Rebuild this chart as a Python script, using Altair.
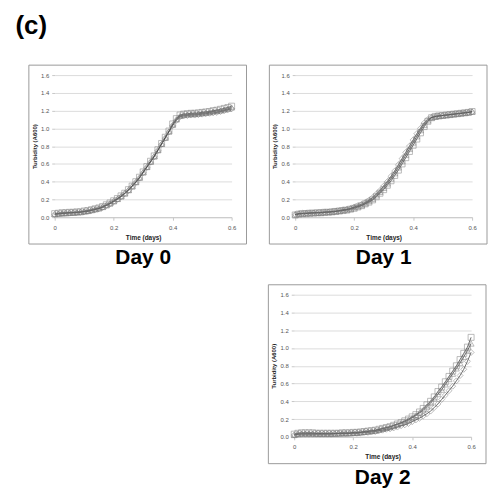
import altair as alt
import pandas as pd

TIME = [0, 0.0125, 0.025, 0.0375, 0.05, 0.0625, 0.075, 0.0875, 0.1, 0.1125, 0.125, 0.1375,
        0.15, 0.1625, 0.175, 0.1875, 0.2, 0.2125, 0.225, 0.2375, 0.25, 0.2625, 0.275, 0.2875,
        0.3, 0.3125, 0.325, 0.3375, 0.35, 0.3625, 0.375, 0.3875, 0.4, 0.4125, 0.425, 0.4375,
        0.45, 0.4625, 0.475, 0.4875, 0.5, 0.5125, 0.525, 0.5375, 0.55, 0.5625, 0.575, 0.5875, 0.6]

# Day 0
S0 = [0.04,0.045,0.05,0.05,0.055,0.055,0.06,0.06,0.07,0.075,0.085,0.095,0.105,0.12,0.14,0.16,0.185,0.21,0.24,0.27,0.31,0.35,0.40,0.45,0.51,0.57,0.63,0.69,0.76,0.83,0.90,0.97,1.05,1.11,1.15,1.16,1.165,1.17,1.17,1.175,1.18,1.185,1.19,1.20,1.205,1.215,1.225,1.235,1.25]
D0 = [0.03,0.035,0.04,0.045,0.045,0.05,0.05,0.055,0.06,0.065,0.075,0.085,0.095,0.11,0.13,0.15,0.175,0.20,0.23,0.265,0.30,0.345,0.39,0.44,0.50,0.56,0.62,0.68,0.75,0.82,0.89,0.96,1.03,1.09,1.13,1.14,1.145,1.15,1.15,1.155,1.16,1.165,1.17,1.175,1.18,1.19,1.20,1.21,1.22]
T0 = [0.035,0.04,0.045,0.045,0.05,0.05,0.055,0.06,0.065,0.07,0.08,0.09,0.10,0.115,0.135,0.155,0.18,0.205,0.235,0.27,0.305,0.35,0.395,0.445,0.505,0.565,0.625,0.685,0.755,0.825,0.895,0.965,1.04,1.10,1.14,1.15,1.155,1.16,1.16,1.165,1.17,1.175,1.18,1.19,1.195,1.20,1.21,1.22,1.235]

# Day 1
S1 = [0.025,0.035,0.04,0.04,0.045,0.045,0.05,0.05,0.055,0.055,0.06,0.065,0.07,0.075,0.08,0.09,0.10,0.115,0.13,0.15,0.17,0.195,0.23,0.27,0.31,0.36,0.41,0.47,0.53,0.60,0.67,0.74,0.81,0.88,0.95,1.02,1.08,1.12,1.135,1.14,1.145,1.15,1.155,1.16,1.165,1.17,1.175,1.18,1.19]
D1 = [0.03,0.04,0.045,0.045,0.05,0.05,0.05,0.055,0.06,0.06,0.065,0.07,0.075,0.085,0.09,0.10,0.115,0.13,0.145,0.165,0.19,0.22,0.26,0.30,0.35,0.40,0.46,0.52,0.59,0.66,0.73,0.80,0.87,0.94,1.00,1.06,1.10,1.125,1.135,1.14,1.145,1.15,1.155,1.16,1.165,1.17,1.175,1.18,1.185]
T1 = [0.03,0.04,0.04,0.045,0.045,0.05,0.05,0.05,0.055,0.06,0.06,0.065,0.07,0.08,0.085,0.095,0.11,0.12,0.135,0.155,0.18,0.205,0.245,0.285,0.33,0.38,0.435,0.495,0.56,0.63,0.70,0.77,0.84,0.91,0.98,1.04,1.09,1.12,1.13,1.14,1.145,1.15,1.155,1.16,1.165,1.17,1.175,1.18,1.19]

# Day 2
S2 = [0.03,0.04,0.045,0.045,0.045,0.045,0.04,0.04,0.04,0.04,0.04,0.04,0.04,0.045,0.045,0.045,0.05,0.05,0.055,0.06,0.065,0.07,0.075,0.085,0.095,0.105,0.115,0.13,0.145,0.16,0.18,0.20,0.225,0.25,0.28,0.32,0.36,0.40,0.45,0.51,0.56,0.62,0.68,0.74,0.80,0.87,0.94,1.01,1.12]
T2 = [0.02,0.03,0.035,0.035,0.035,0.035,0.035,0.035,0.035,0.035,0.035,0.035,0.04,0.04,0.04,0.04,0.045,0.045,0.05,0.055,0.06,0.065,0.07,0.08,0.09,0.10,0.11,0.125,0.14,0.155,0.17,0.19,0.215,0.24,0.27,0.30,0.34,0.38,0.43,0.48,0.53,0.59,0.65,0.71,0.77,0.83,0.90,0.97,1.05]
D2 = [0.02,0.03,0.03,0.03,0.03,0.03,0.03,0.03,0.03,0.03,0.03,0.035,0.035,0.035,0.035,0.04,0.04,0.04,0.045,0.05,0.05,0.055,0.06,0.07,0.075,0.085,0.09,0.10,0.11,0.125,0.135,0.15,0.17,0.19,0.21,0.235,0.26,0.29,0.33,0.37,0.42,0.47,0.52,0.57,0.63,0.69,0.76,0.85,0.95]

X_TICKS = [0, 0.2, 0.4, 0.6]
Y_TICKS = [0, 0.2, 0.4, 0.6, 0.8, 1.0, 1.2, 1.4, 1.6]
SERIES = ["A", "B", "C"]
SHAPES = ["square", "diamond", "triangle-up"]

FONT = "Liberation Sans"


def make_df(a, b, c):
    rows = []
    for name, vals in zip(SERIES, [a, b, c]):
        assert len(vals) == len(TIME)
        for t, v in zip(TIME, vals):
            rows.append({"t": t, "v": v, "s": name})
    return pd.DataFrame(rows)


def frame_layer(opacity=1.0):
    return alt.Chart(pd.DataFrame({"k": [0]})).mark_rect(
        fillOpacity=0, stroke="#9a9a9a", strokeWidth=1, strokeOpacity=opacity
    ).encode(x=alt.value(-26), x2=alt.value(193), y=alt.value(-10), y2=alt.value(170))


def panel(label, a, b, c):
    df = make_df(a, b, c)
    base = alt.Chart(df)
    x = alt.X("t:Q", scale=alt.Scale(domain=[0, 0.6], nice=False),
              axis=alt.Axis(values=X_TICKS, tickCount=len(X_TICKS), format=".1~f",
                            grid=False, domain=True,
                            domainColor="#c8c8c8", tickColor="#c8c8c8", tickSize=3,
                            labelFontSize=6, labelColor="#555", labelFont=FONT,
                            labelOverlap=False, labelFlush=False,
                            labelPadding=4, title="Time (days)", titleFont=FONT,
                            titleFontSize=6.5, titleFontWeight="bold", titleColor="#222",
                            titlePadding=4))
    y = alt.Y("v:Q", scale=alt.Scale(domain=[0, 1.6], nice=False),
              axis=alt.Axis(values=Y_TICKS, tickCount=len(Y_TICKS), format=".1f",
                            grid=True, gridColor="#dcdcdc",
                            domain=False, tickColor="#c8c8c8", tickSize=3,
                            labelFontSize=6, labelColor="#555", labelFont=FONT,
                            labelOverlap=False, labelFlush=False,
                            labelPadding=3, title="Turbidity (A600)", titleFont=FONT,
                            titleFontSize=6, titleFontWeight="bold", titleColor="#222",
                            titlePadding=3))
    lines = base.mark_line(color="#444", strokeWidth=0.8).encode(x=x, y=y, detail="s:N")
    pts = base.mark_point(filled=False, size=36, strokeWidth=0.7, color="#777777").encode(
        x="t:Q", y="v:Q",
        shape=alt.Shape("s:N", scale=alt.Scale(domain=SERIES, range=SHAPES), legend=None))
    return alt.layer(frame_layer(), lines, pts).properties(
        width=178, height=143,
        title=alt.TitleParams(label, orient="bottom", fontSize=21, fontWeight="bold",
                              font=FONT, color="black", offset=3))


p0 = panel("Day 0", S0, D0, T0)
p1 = panel("Day 1", S1, D1, T1)
p2 = panel("Day 2", S2, D2, T2)
blank = frame_layer(0).properties(width=178, height=143)

chart = alt.vconcat(
    alt.hconcat(p0, p1, spacing=21),
    alt.hconcat(blank, p2, spacing=21),
    spacing=15,
).properties(
    title=alt.TitleParams("(c)", anchor="start", fontSize=26, fontWeight="bold",
                          font=FONT, color="black", dx=-13, offset=26),
    padding={"left": 7, "top": 3, "right": 0, "bottom": 0},
).configure_view(stroke=None)

chart.save("out.html", embed_options={"renderer": "svg", "actions": False})
